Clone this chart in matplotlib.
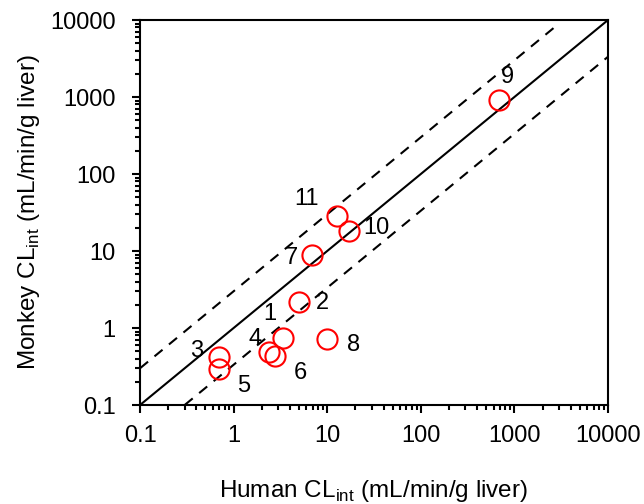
import matplotlib
matplotlib.use('Agg')
import matplotlib.pyplot as plt
import numpy as np

plt.rcParams['font.family'] = ['Liberation Sans', 'DejaVu Sans']

# compound number, human CLint, monkey CLint (mL/min/g liver)
ids = ['1', '2', '3', '4', '5', '6', '7', '8', '9', '10', '11']
human = [3.4, 5.0, 0.69, 2.4, 0.69, 2.8, 6.9, 9.9, 690, 17.0, 12.7]
monkey = [0.75, 2.2, 0.42, 0.49, 0.29, 0.43, 8.8, 0.72, 910, 18.2, 28.5]

# label offsets in points
offsets = {'1': (-10, 17), '2': (17, -1), '3': (-16, 4), '4': (-10, 9),
           '5': (18, -12), '6': (18, -12), '7': (-15, -2), '8': (19, -4),
           '9': (6, 17), '10': (20, 2), '11': (-22, 12)}

ticks = [0.1, 1, 10, 100, 1000, 10000]
tick_labels = ['0.1', '1', '10', '100', '1000', '10000']

# unity line and 3-fold lines
unity_x = [0.1, 10000]
upper_x = [0.1, 2700]
lower_x = [0.3, 10000]

fig = plt.figure(figsize=(6.44, 5.04), dpi=100)
ax = fig.add_axes([0.2174, 0.1964, 0.7267, 0.7639])

ax.plot(unity_x, unity_x, color='black', lw=1.5)
ax.plot(upper_x, [3 * v for v in upper_x], color='black', lw=1.5, ls=(0, (5, 4)))
ax.plot(lower_x, [v / 3 for v in lower_x], color='black', lw=1.5, ls=(0, (5, 4)))

ax.plot(human, monkey, 'o', ms=14.5, mfc='none', mec='red', mew=1.5)

for i, name in enumerate(ids):
    ax.annotate(name, (human[i], monkey[i]), xytext=offsets[name],
                textcoords='offset points', ha='center', va='center', fontsize=17)

ax.set_xscale('log')
ax.set_yscale('log')
ax.set_xlim(0.1, 10000)
ax.set_ylim(0.1, 10000)
ax.set_xticks(ticks)
ax.set_xticklabels(tick_labels)
ax.set_yticks(ticks)
ax.set_yticklabels(tick_labels)
ax.tick_params(which='both', direction='out', width=1.5, labelsize=17, top=False, right=False)
ax.tick_params(which='major', length=5.5, pad=9)
ax.tick_params(axis='y', which='major', pad=12)
ax.tick_params(which='minor', length=3.5)
for s in ax.spines.values():
    s.set_linewidth(1.5)

ax.set_xlabel(r'Human CL$_\mathregular{int}$ (mL/min/g liver)', fontsize=17.5, labelpad=22)
ax.set_ylabel(r'Monkey CL$_\mathregular{int}$ (mL/min/g liver)', fontsize=17.5, labelpad=6)

fig.savefig('out.png', dpi=100)
